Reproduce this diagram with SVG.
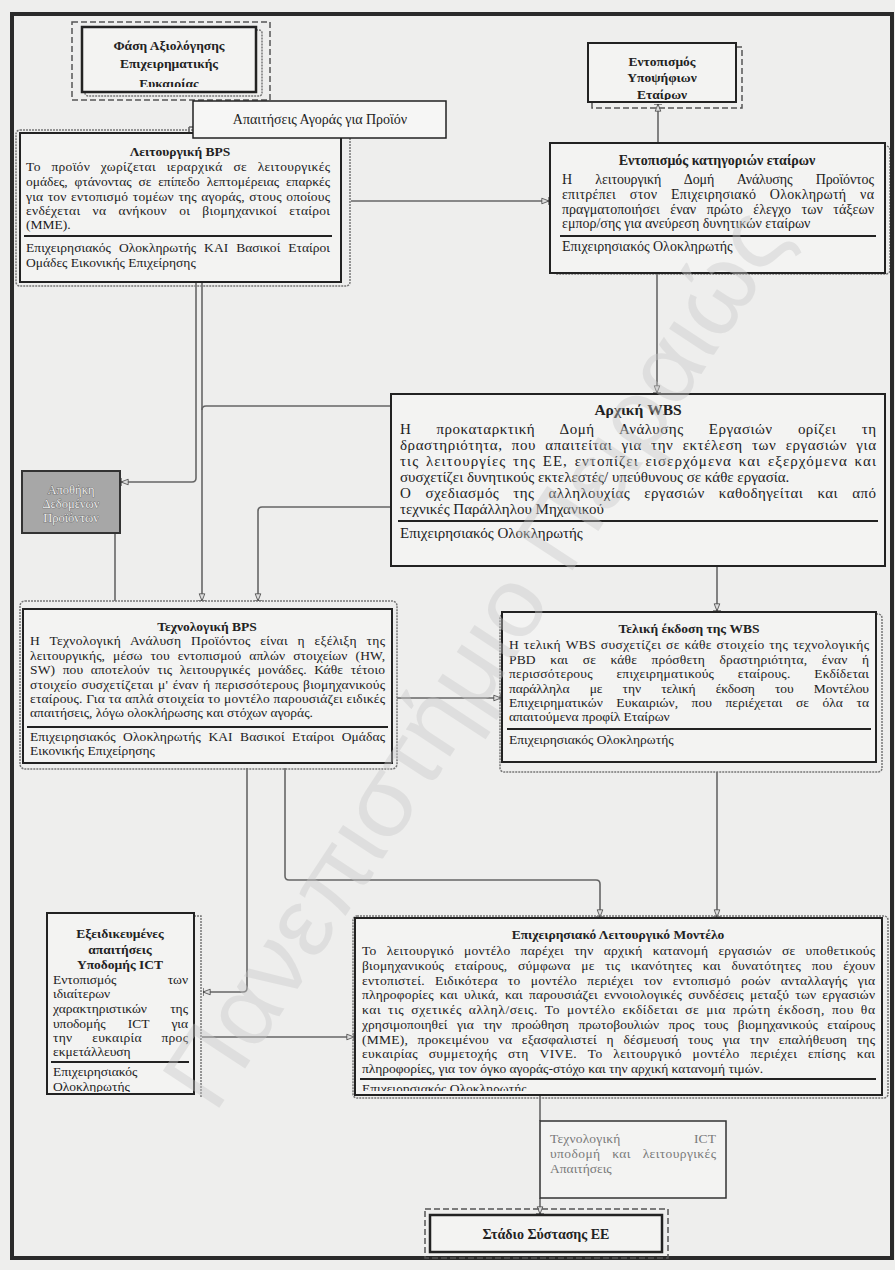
<svg xmlns="http://www.w3.org/2000/svg" width="895" height="1270" viewBox="0 0 895 1270">
<style>
.bx{fill:#f3f3f2;stroke:#222;stroke-width:2}
.sh{fill:none;stroke:#777;stroke-width:1.5;stroke-dasharray:2 1}
.ds{fill:none;stroke:#555;stroke-width:1.5;stroke-dasharray:6 3}
.t{font-family:"Liberation Serif","Times New Roman",serif;font-size:13.5px;fill:#222}
.e{font-size:14px}
.f{font-size:15px}
.tb{font-weight:bold;text-anchor:middle}
.sep{stroke:#222;stroke-width:2}
.cn{fill:none;stroke:#666;stroke-width:1.6}
.g{font-size:12.5px;fill:#efefef;stroke:#555;stroke-width:0.7;paint-order:stroke;text-anchor:middle}
.wm{font-family:"Liberation Sans",Arial,sans-serif;font-size:98px;fill:#c8c8c8;opacity:0.4}
</style>
<defs>
<marker id="ar" viewBox="0 0 10 10" refX="10" refY="5" markerWidth="8" markerHeight="8" markerUnits="userSpaceOnUse" orient="auto">
<path d="M1,1.5 L10,5 L1,8.5 z" fill="#ddd" stroke="#444" stroke-width="1"/>
<path d="M10,0 V10" stroke="#444" stroke-width="1.5"/>
</marker>
<clipPath id="cA"><rect x="82" y="27" width="174" height="60"/></clipPath>
<clipPath id="cD"><rect x="588" y="43" width="148" height="57"/></clipPath>
<clipPath id="cJ"><rect x="47" y="913" width="147" height="179"/></clipPath>
<clipPath id="cK"><rect x="355" y="918" width="527" height="173"/></clipPath>
</defs>
<rect x="0" y="0" width="895" height="1270" fill="#eeeeed"/>

<g id="connectors">
<path class="cn" d="M189,127 V132 M189,127 H193"/>
<path class="cn" d="M351,201 H549" marker-end="url(#ar)"/>
<path class="cn" d="M658,143 V104" marker-end="url(#ar)"/>
<path class="cn" d="M657,273 V393" marker-end="url(#ar)"/>
<path class="cn" d="M202,282 V601" marker-end="url(#ar)"/>
<path class="cn" d="M196,282 V478 Q196,482 192,482 H121" marker-end="url(#ar)"/>
<path class="cn" d="M391,406 H206 Q202,406 202,410"/>
<path class="cn" d="M391,507 H262 Q258,507 258,511 V601" marker-end="url(#ar)"/>
<path class="cn" d="M115,533 V601"/>
<path class="cn" d="M717,566 V611" marker-end="url(#ar)"/>
<path class="cn" d="M397,698 H501" marker-end="url(#ar)"/>
<path class="cn" d="M717,772 V917" marker-end="url(#ar)"/>
<path class="cn" d="M285,768 V876 Q285,880 289,880 H596 Q600,880 600,884 V917" marker-end="url(#ar)"/>
<path class="cn" d="M247,768 V988 Q247,992 243,992 H203" marker-end="url(#ar)"/>
<path class="cn" d="M202,1037 H354" marker-end="url(#ar)"/>
<path class="cn" d="M540,1095 V1121"/>
<path class="cn" d="M540,1198 V1214" marker-end="url(#ar)"/>
</g>

<g id="lead-bps">
<rect class="sh" x="16" y="130" width="334" height="156" rx="4"/>
<rect class="bx" x="20" y="133" width="321" height="149"/>
<text class="t tb" x="180" y="156">Λειτουργική BPS</text>
<text class="t" x="26" y="171" textLength="304" lengthAdjust="spacing" style="word-spacing:7px">Το προϊόν χωρίζεται ιεραρχικά σε λειτουργικές</text>
<text class="t" x="26" y="186" textLength="304" lengthAdjust="spacing" style="word-spacing:3.5px">ομάδες, φτάνοντας σε επίπεδο λεπτομέρειας επαρκές</text>
<text class="t" x="26" y="201" textLength="304" lengthAdjust="spacing" style="word-spacing:1px">για τον εντοπισμό τομέων της αγοράς, στους οποίους</text>
<text class="t" x="26" y="215" textLength="304" lengthAdjust="spacing" style="word-spacing:8.5px">ενδέχεται να ανήκουν οι βιομηχανικοί εταίροι</text>
<text class="t" x="26" y="229">(ΜΜΕ).</text>
<line class="sep" x1="24" y1="236" x2="332" y2="236"/>
<text class="t" x="26" y="252" textLength="304" lengthAdjust="spacing" style="word-spacing:4.5px">Επιχειρησιακός Ολοκληρωτής ΚΑΙ Βασικοί Εταίροι</text>
<text class="t" x="26" y="267">Ομάδες Εικονικής Επιχείρησης</text>
</g>

<g id="phase-eval">
<rect class="ds" x="72" y="22" width="198" height="78"/>
<rect class="sh" x="85" y="30" width="177" height="66" rx="3"/>
<rect class="bx" x="82" y="27" width="174" height="65" style="stroke-width:2.5"/>
<g clip-path="url(#cA)">
<text class="t tb" x="169" y="50">Φάση Αξιολόγησης</text>
<text class="t tb" x="169" y="68">Επιχειρηματικής</text>
<text class="t tb" x="169" y="88">Ευκαιρίας</text>
</g>
</g>

<g id="market-req">
<rect x="193" y="101" width="253" height="37" fill="#f6f6f5" stroke="#222" stroke-width="1.5"/>
<text class="t e" x="320" y="124" text-anchor="middle">Απαιτήσεις Αγοράς για Προϊόν</text>
</g>

<g id="candidates">
<path class="ds" d="M736,47 H742 V108 H592 V102"/>
<rect class="bx" x="588" y="43" width="148" height="59"/>
<g clip-path="url(#cD)">
<text class="t tb" x="662" y="66">Εντοπισμός</text>
<text class="t tb" x="662" y="82">Υποψήφιων</text>
<text class="t tb" x="662" y="99">Εταίρων</text>
</g>
</g>

<g id="partner-cat">
<rect class="sh" x="553" y="146" width="337" height="128" rx="4"/>
<rect class="bx" x="550" y="143" width="335" height="130"/>
<text class="t e tb" x="717" y="165">Εντοπισμός κατηγοριών εταίρων</text>
<text class="t e" x="562" y="184" textLength="312" lengthAdjust="spacing" style="word-spacing:20px">Η λειτουργική Δομή Ανάλυσης Προϊόντος</text>
<text class="t e" x="562" y="199" textLength="312" lengthAdjust="spacing" style="word-spacing:10px">επιτρέπει στον Επιχειρησιακό Ολοκληρωτή να</text>
<text class="t e" x="562" y="214" textLength="312" lengthAdjust="spacing" style="word-spacing:7px">πραγματοποιήσει έναν πρώτο έλεγχο των τάξεων</text>
<text class="t e" x="562" y="228">εμπορ/σης για ανεύρεση δυνητικών εταίρων</text>
<line class="sep" x1="560" y1="236" x2="876" y2="236"/>
<text class="t e" x="562" y="251">Επιχειρησιακός Ολοκληρωτής</text>
</g>

<g id="initial-wbs">
<rect class="bx" x="391" y="394" width="494" height="172"/>
<text class="t tb" x="638" y="415" style="font-size:15.5px">Αρχική WBS</text>
<text class="t f" x="400" y="434" textLength="476" lengthAdjust="spacing" style="word-spacing:21px">Η προκαταρκτική Δομή Ανάλυσης Εργασιών ορίζει τη</text>
<text class="t f" x="400" y="450" textLength="476" lengthAdjust="spacing" style="word-spacing:5px">δραστηριότητα, που απαιτείται για την εκτέλεση των εργασιών για</text>
<text class="t f" x="400" y="466" textLength="476" lengthAdjust="spacing" style="word-spacing:2px">τις λειτουργίες της ΕΕ, εντοπίζει εισερχόμενα και εξερχόμενα  και</text>
<text class="t f" x="400" y="482">συσχετίζει δυνητικούς εκτελεστές/ υπεύθυνους σε κάθε εργασία.</text>
<text class="t f" x="400" y="498" textLength="476" lengthAdjust="spacing" style="word-spacing:10px">Ο σχεδιασμός της αλληλουχίας εργασιών καθοδηγείται και από</text>
<text class="t f" x="400" y="514">τεχνικές Παράλληλου Μηχανικού</text>
<line class="sep" x1="398" y1="521" x2="878" y2="521"/>
<text class="t f" x="400" y="538">Επιχειρησιακός Ολοκληρωτής</text>
</g>

<g id="product-store">
<rect x="22" y="471" width="98" height="62" fill="#a7a7a7" stroke="#333" stroke-width="2"/>
<text class="t g" x="71" y="494">Αποθήκη</text>
<text class="t g" x="71" y="508">Δεδομένων</text>
<text class="t g" x="71" y="522">Προϊόντων</text>
</g>

<g id="tech-bps">
<rect class="sh" x="20" y="601" width="377" height="168" rx="5"/>
<rect class="bx" x="23" y="609" width="369" height="154"/>
<text class="t tb" x="207" y="631">Τεχνολογική BPS</text>
<text class="t" x="30" y="645" textLength="355" lengthAdjust="spacing" style="word-spacing:6px">Η Τεχνολογική Ανάλυση Προϊόντος είναι η εξέλιξη της</text>
<text class="t" x="30" y="660" textLength="355" lengthAdjust="spacing" style="word-spacing:4.5px">λειτουργικής, μέσω του εντοπισμού απλών στοιχείων (HW,</text>
<text class="t" x="30" y="674" textLength="355" lengthAdjust="spacing" style="word-spacing:4px">SW) που αποτελούν τις λειτουργικές μονάδες. Κάθε τέτοιο</text>
<text class="t" x="30" y="689" textLength="355" lengthAdjust="spacing" style="word-spacing:1px">στοιχείο συσχετίζεται μ' έναν ή περισσότερους βιομηχανικούς</text>
<text class="t" x="30" y="703" textLength="355" lengthAdjust="spacing">εταίρους. Για τα απλά στοιχεία το μοντέλο παρουσιάζει ειδικές</text>
<text class="t" x="30" y="717">απαιτήσεις, λόγω ολοκλήρωσης και στόχων αγοράς.</text>
<line class="sep" x1="27" y1="727" x2="388" y2="727"/>
<text class="t" x="30" y="741" textLength="355" lengthAdjust="spacing" style="word-spacing:4px">Επιχειρησιακός Ολοκληρωτής ΚΑΙ Βασικοί Εταίροι Ομάδας</text>
<text class="t" x="30" y="755">Εικονικής Επιχείρησης</text>
</g>

<g id="final-wbs">
<rect class="sh" x="500" y="614" width="382" height="158" rx="4"/>
<rect class="bx" x="502" y="612" width="374" height="150"/>
<text class="t tb" x="689" y="633">Τελική έκδοση της WBS</text>
<text class="t" x="509" y="649" textLength="360" lengthAdjust="spacing" style="word-spacing:1px">Η τελική WBS συσχετίζει σε κάθε στοιχείο της τεχνολογικής</text>
<text class="t" x="509" y="664" textLength="360" lengthAdjust="spacing" style="word-spacing:11px">PBD και σε κάθε πρόσθετη δραστηριότητα, έναν ή</text>
<text class="t" x="509" y="678" textLength="360" lengthAdjust="spacing" style="word-spacing:20px">περισσότερους επιχειρηματικούς εταίρους. Εκδίδεται</text>
<text class="t" x="509" y="693" textLength="360" lengthAdjust="spacing" style="word-spacing:17px">παράλληλα με την τελική έκδοση του Μοντέλου</text>
<text class="t" x="509" y="707" textLength="360" lengthAdjust="spacing" style="word-spacing:10px">Επιχειρηματικών Ευκαιριών, που περιέχεται σε όλα τα</text>
<text class="t" x="509" y="721">απαιτούμενα προφίλ Εταίρων</text>
<line class="sep" x1="507" y1="729" x2="871" y2="729"/>
<text class="t" x="509" y="744">Επιχειρησιακός Ολοκληρωτής</text>
</g>

<g id="ict-req">
<path class="sh" d="M194,916 H201 V1097"/>
<rect class="bx" x="47" y="913" width="147" height="181"/>
<g clip-path="url(#cJ)">
<text class="t tb" x="120" y="938">Εξειδικευμένες</text>
<text class="t tb" x="120" y="954">απαιτήσεις</text>
<text class="t tb" x="120" y="969">Υποδομής ICT</text>
<text class="t" x="53" y="984" textLength="135" lengthAdjust="spacing" style="word-spacing:48px">Εντοπισμός των</text>
<text class="t" x="53" y="998">ιδιαίτερων</text>
<text class="t" x="53" y="1013" textLength="135" lengthAdjust="spacing" style="word-spacing:20px">χαρακτηριστικών της</text>
<text class="t" x="53" y="1028" textLength="135" lengthAdjust="spacing" style="word-spacing:19px">υποδομής ICT για</text>
<text class="t" x="53" y="1042" textLength="135" lengthAdjust="spacing" style="word-spacing:16px">την ευκαιρία προς</text>
<text class="t" x="53" y="1056">εκμετάλλευση</text>
<line class="sep" x1="51" y1="1062" x2="189" y2="1062"/>
<text class="t" x="53" y="1076">Επιχειρησιακός</text>
<text class="t" x="53" y="1091">Ολοκληρωτής</text>
</g>
</g>

<g id="business-model">
<rect class="sh" x="353" y="916" width="535" height="182" rx="4"/>
<rect class="bx" x="355" y="918" width="527" height="177"/>
<g clip-path="url(#cK)">
<text class="t tb" x="618" y="939">Επιχειρησιακό Λειτουργικό Μοντέλο</text>
<text class="t" x="362" y="955" textLength="513" lengthAdjust="spacing" style="word-spacing:6.5px">Το λειτουργικό μοντέλο παρέχει την αρχική κατανομή εργασιών σε υποθετικούς</text>
<text class="t" x="362" y="970" textLength="513" lengthAdjust="spacing" style="word-spacing:7px">βιομηχανικούς εταίρους, σύμφωνα με τις ικανότητες και δυνατότητες που έχουν</text>
<text class="t" x="362" y="985" textLength="513" lengthAdjust="spacing" style="word-spacing:6.5px">εντοπιστεί. Ειδικότερα το μοντέλο περιέχει τον εντοπισμό ροών ανταλλαγής για</text>
<text class="t" x="362" y="999" textLength="513" lengthAdjust="spacing" style="word-spacing:2.5px">πληροφορίες και υλικά, και παρουσιάζει εννοιολογικές συνδέσεις μεταξύ των εργασιών</text>
<text class="t" x="362" y="1014" textLength="513" lengthAdjust="spacing" style="word-spacing:3px">και τις σχετικές αλληλ/σεις. Το μοντέλο εκδίδεται σε μια πρώτη έκδοση, που θα</text>
<text class="t" x="362" y="1029" textLength="513" lengthAdjust="spacing" style="word-spacing:6px">χρησιμοποιηθεί για την προώθηση πρωτοβουλιών προς τους βιομηχανικούς εταίρους</text>
<text class="t" x="362" y="1044" textLength="513" lengthAdjust="spacing" style="word-spacing:6px">(ΜΜΕ), προκειμένου να εξασφαλιστεί η δέσμευσή τους για την επαλήθευση της</text>
<text class="t" x="362" y="1058" textLength="513" lengthAdjust="spacing" style="word-spacing:7px">ευκαιρίας συμμετοχής στη VIVE. Το λειτουργικό μοντέλο περιέχει επίσης και</text>
<text class="t" x="362" y="1073">πληροφορίες, για τον όγκο αγοράς-στόχο και την αρχική κατανομή τιμών.</text>
<line class="sep" x1="360" y1="1079" x2="876" y2="1079"/>
<text class="t" x="362" y="1093">Επιχειρησιακός Ολοκληρωτής</text>
</g>
</g>

<g id="tech-ict">
<rect x="540" y="1121" width="186" height="77" fill="#f3f3f2" stroke="#333" stroke-width="1.5"/>
<text class="t" x="550" y="1143" textLength="166" lengthAdjust="spacing" style="fill:#7a7a7a;word-spacing:70px">Τεχνολογική ICT</text>
<text class="t" x="550" y="1158" textLength="166" lengthAdjust="spacing" style="fill:#7a7a7a;word-spacing:8px">υποδομή και λειτουργικές</text>
<text class="t" x="550" y="1173" style="fill:#7a7a7a">Απαιτήσεις</text>
</g>

<rect x="12" y="14" width="880" height="1244" fill="none" stroke="#2a2a2a" stroke-width="4"/>

<g id="ve-stage">
<rect class="ds" x="425" y="1209" width="243" height="49"/>
<rect class="bx" x="430" y="1215" width="232" height="37" style="stroke-width:2.5"/>
<text class="t e tb" x="546" y="1239">Στάδιο Σύστασης ΕΕ</text>
</g>

<text class="wm" x="503" y="676" text-anchor="middle" textLength="1050" lengthAdjust="spacingAndGlyphs" transform="rotate(-56.7 503 676)">Πανεπιστήμιο Πειραιώς</text>
</svg>
